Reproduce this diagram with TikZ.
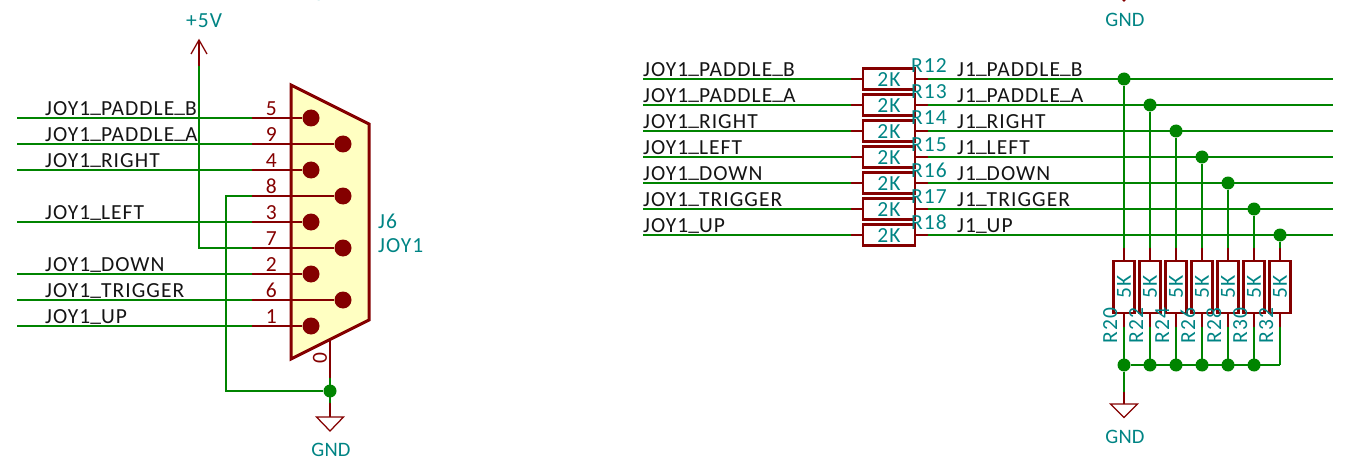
\documentclass[tikz,border=0pt]{standalone}
\usepackage{fontspec}
\setmainfont{Carlito}[LetterSpace=5]
\newcommand{\us}{\raisebox{2.5pt}{\_}}
\definecolor{wirecol}{RGB}{0,132,0}
\definecolor{partcol}{RGB}{132,0,0}
\definecolor{fieldcol}{RGB}{0,132,132}
\definecolor{bodycol}{RGB}{255,255,194}
\definecolor{labelcol}{RGB}{20,20,20}
\tikzset{
  wire/.style={draw=wirecol,line width=1.25pt},
  pinline/.style={draw=partcol,line width=1.25pt},
  body/.style={draw=partcol,line width=3pt,line join=miter},
  contact/.style={circle,fill=partcol,inner sep=0pt,minimum size=17pt},
  junction/.style={circle,fill=wirecol,inner sep=0pt,minimum size=13pt},
  resbox/.style={rectangle,draw=partcol,line width=2.8pt,inner sep=0pt},
  txt/.style={font=\fontsize{21.5}{22}\selectfont,inner sep=0pt},
  netlabel/.style={txt,text=labelcol,anchor=base west},
  pinnum/.style={txt,text=partcol,anchor=base east},
  field/.style={txt,text=fieldcol},
  gndtext/.style={inner sep=0pt,text=fieldcol,font=\fontsize{20.5}{22}\selectfont\addfontfeature{LetterSpace=1}},
  symline/.style={draw=partcol,line width=1.25pt,line join=miter},
}
\begin{document}
\begin{tikzpicture}[x=1pt,y=-1pt]
\useasboundingbox (0,0) rectangle (1360,468);
\clip (0,0) rectangle (1360,468);
% connector body
\draw[body,fill=bodycol] (291,85) -- (369,124) -- (369,320) -- (291,359) -- cycle;
% connector rows
\foreach \n/\y/\px/\lab in {5/118/311/JOY1\us{}PADDLE\us{}B,9/144/343/JOY1\us{}PADDLE\us{}A,4/170/311/JOY1\us{}RIGHT,3/222/311/JOY1\us{}LEFT,2/274/311/JOY1\us{}DOWN,6/300/343/JOY1\us{}TRIGGER,1/326/311/JOY1\us{}UP}{
  \coordinate (in\n) at (17,\y);
  \coordinate (p\n) at (252,\y);
  \node[contact] (c\n) at (\px,\y) {};
  \draw[wire] (in\n) -- (p\n);
  \draw[pinline] (p\n) -- (c\n);
  \node[netlabel] (l\n) at (45,\y-2.5) {\lab};
  \node[pinnum] (num\n) at (277,\y-2.5) {\n};
}
\foreach \n/\y/\px in {8/196/343,7/248/343}{
  \coordinate (p\n) at (252,\y);
  \node[contact] (c\n) at (\px,\y) {};
  \draw[pinline] (p\n) -- (c\n);
  \node[pinnum] (num\n) at (277,\y-2.5) {\n};
}
% +5V
\coordinate (vtip) at (199,40);
\coordinate (vbase) at (199,66);
\coordinate (vcorner) at (199,248);
\draw[wire] (vbase) -- (vcorner) -- (p7);
\draw[symline] (vbase) -- (vtip);
\draw[symline] (191,54) -- (vtip) -- (207,54);
\node[field] (vlabel) at (204,21) {+5V};
% left ground
\node[junction] (jg) at (330,391) {};
\coordinate (gc) at (226,391);
\coordinate (g8) at (226,196);
\coordinate (shell) at (330,340);
\coordinate (shellw) at (330,378);
\coordinate (gw) at (330,403);
\coordinate (gt) at (330,417);
\draw[wire] (p8) -- (g8) -- (gc) -- (jg);
\draw[pinline] (shell) -- (shellw);
\draw[wire] (shellw) -- (gw);
\draw[pinline] (gw) -- (gt);
\draw[symline] (gt) -- (316.5,417) -- (330,431) -- (343.5,417) -- cycle;
\node[gndtext] (gl) at (331,450) {GND};
\node[gndtext] (gtop) at (331,-6.5) {GND};
\node[txt,text=partcol,rotate=90] (num0) at (320,358.5) {0};
\node[field,anchor=base west] (jref) at (378,228) {J6};
\node[field,anchor=base west] (jval) at (378,252) {JOY1};
% series resistors and pull-downs
\foreach \i/\y/\rn/\px/\pd/\left/\right in {
  1/79/R12/1124/R20/JOY1\us{}PADDLE\us{}B/J1\us{}PADDLE\us{}B,
  2/105/R13/1150/R22/JOY1\us{}PADDLE\us{}A/J1\us{}PADDLE\us{}A,
  3/131/R14/1176/R24/JOY1\us{}RIGHT/J1\us{}RIGHT,
  4/157/R15/1202/R26/JOY1\us{}LEFT/J1\us{}LEFT,
  5/183/R16/1228/R28/JOY1\us{}DOWN/J1\us{}DOWN,
  6/209/R17/1254/R30/JOY1\us{}TRIGGER/J1\us{}TRIGGER,
  7/235/R18/1280/R32/JOY1\us{}UP/J1\us{}UP}{
  \coordinate (a\i) at (643,\y);
  \coordinate (b\i) at (851,\y);
  \coordinate (d\i) at (928,\y);
  \coordinate (e\i) at (1333,\y);
  \node[resbox,minimum width=52pt,minimum height=21pt] (rs\i) at (889,\y) {};
  \node[field] (rsv\i) at (889,\y+1) {2K};
  \node[field,anchor=base west] (rsn\i) at (911,\y-6) {\rn};
  \node[netlabel] (ll\i) at (643,\y-2.5) {\left};
  \node[netlabel] (lr\i) at (957,\y-2.5) {\right};
  \draw[wire] (a\i) -- (b\i);
  \draw[wire] (d\i) -- (e\i);
  \draw[pinline] (b\i) -- (rs\i.west);
  \draw[pinline] (d\i) -- (rs\i.east);
  \node[junction] (t\i) at (\px,\y) {};
  \coordinate (u\i) at (\px,248);
  \coordinate (v\i) at (\px,327);
  \coordinate (w\i) at (\px,365);
  \node[resbox,minimum width=21pt,minimum height=52pt] (rp\i) at (\px,287) {};
  \node[field,rotate=90] (rpv\i) at (\px,287) {5K};
  \node[field,rotate=90,anchor=base] (rpn\i) at (\px-7,325.5) {\pd};
  \draw[wire] (t\i) -- (u\i);
  \draw[pinline] (u\i) -- (rp\i.north);
  \draw[pinline] (rp\i.south) -- (v\i);
  \draw[wire] (v\i) -- (w\i);
}
\foreach \i in {1,...,6}{\node[junction] (k\i) at (w\i) {};}
\draw[wire] (k1) -- (w7);
\coordinate (rg) at (1124,392);
\coordinate (rt) at (1124,404);
\draw[wire] (k1) -- (rg);
\draw[pinline] (rg) -- (rt);
\draw[symline] (rt) -- (1110.5,404) -- (1124,417.5) -- (1137.5,404) -- cycle;
\node[gndtext] (rgl) at (1125,437) {GND};
\node[gndtext] (rgt) at (1125,20) {GND};
\draw[symline] (1111,-12) -- (1124,1) -- (1137,-12);
\end{tikzpicture}
\end{document}
